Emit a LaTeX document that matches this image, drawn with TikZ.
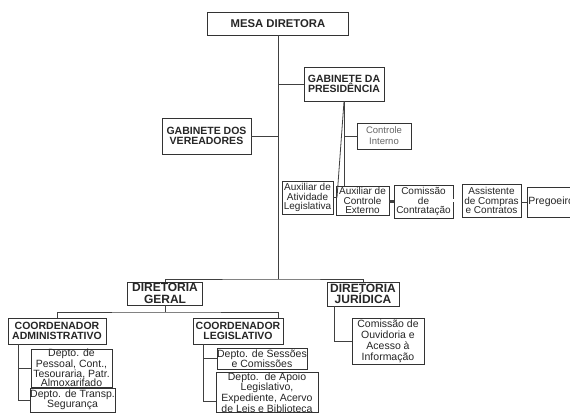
\documentclass[tikz,border=0pt]{standalone}
\usepackage{fontspec}
\setmainfont{Liberation Sans}
\begin{document}
\begin{tikzpicture}[x=1pt,y=-1pt,
  box/.style={draw=black!80, line width=0.9pt, inner sep=0pt, align=center, text=black!85},
  hd/.style={box, font=\bfseries\fontsize{10.5}{9.8}\selectfont},
  hdbig/.style={box, font=\bfseries\fontsize{12}{11.5}\selectfont},
  tx/.style={box, font=\fontsize{10}{9.6}\selectfont},
  txg/.style={box, text=black!60, font=\fontsize{9.5}{11}\selectfont},
  ln/.style={draw=black!75, line width=0.8pt}]
\useasboundingbox (0,0) rectangle (570,414);
\clip (0,0) rectangle (570,414);
\fill[white] (0,0) rectangle (570,414);

% top part
\node[hd, minimum width=141, minimum height=23, font=\bfseries\fontsize{11.3}{11}\selectfont] (mesa) at (278,23.5) {MESA DIRETORA};
\node[hd, minimum width=80, minimum height=34] (gpres) at (344,84) {GABINETE DA\\PRESIDÊNCIA};
\node[hd, minimum width=89, minimum height=36] (gver) at (206.5,136) {GABINETE DOS\\VEREADORES};
\node[txg, minimum width=54, minimum height=26] (cint) at (384,136) {Controle\\Interno};
\node[tx, minimum width=51, minimum height=33] (auxat) at (307.5,197.5) {Auxiliar de\\Atividade\\Legislativa};
\node[tx, minimum width=53, minimum height=29] (auxce) at (362.5,200.5) {Auxiliar de\\Controle\\Externo};
\node[tx, minimum width=59, minimum height=33] (comc) at (423.5,201.5) {Comissão\\de\\Contratação};
\node[tx, minimum width=59, minimum height=33] (asst) at (491.5,200.5) {Assistente\\de Compras\\e Contratos};
\node[tx, anchor=west, minimum height=30, text width=66, inner xsep=1.5pt, align=left, font=\fontsize{10.5}{10}\selectfont] (preg) at (526.5,202) {Pregoeiro};

\coordinate (jb) at (278,279);
\coordinate (jpres) at (278,84);
\coordinate (jver) at (278,136);
\coordinate (jint) at (344,136);
\coordinate (jdiag) at (337,197.5);

\draw[ln] (mesa.south) -- (jb);
\draw[ln] (jpres) -- (gpres.west);
\draw[ln] (gver.east) -- (jver);
\draw[ln] (gpres.south) -- (gpres.south |- auxce.north);
\draw[ln] (gpres.south) -- (jdiag);
\draw[ln] (auxat.east) -- (jdiag);
\draw[ln] (jint) -- (cint.west);
\draw[ln, line width=2.4pt] (auxce.east |- comc.west) -- (comc.west);
\draw[ln, double=white, double distance=2.2pt, line width=0.7pt] (comc.east |- asst.west) -- (asst.west);
\draw[ln] (asst.east |- preg.west) -- (preg.west);

% lower part
\node[hdbig, minimum width=75, minimum height=23] (dg) at (165,293.5) {DIRETORIA\\GERAL};
\node[hdbig, minimum width=72, minimum height=24] (dj) at (363,294) {DIRETORIA\\JURÍDICA};
\node[hd, minimum width=98, minimum height=26] (cadm) at (57,331) {COORDENADOR\\ADMINISTRATIVO};
\node[hd, minimum width=90, minimum height=26] (cleg) at (238,331) {COORDENADOR\\LEGISLATIVO};
\node[tx, minimum width=81, minimum height=38, font=\fontsize{10.5}{9.4}\selectfont] (dpess) at (71.5,368) {Depto. de\\Pessoal, Cont.,\\Tesouraria, Patr.\\Almoxarifado};
\node[tx, minimum width=85, minimum height=24, font=\fontsize{10.5}{10}\selectfont] (dtran) at (72.5,400) {Depto. de Transp.\\Segurança};
\node[tx, minimum width=90, minimum height=21, font=\fontsize{10.5}{10}\selectfont] (dsess) at (262,358.5) {Depto. de Sessões\\e Comissões};
\node[tx, minimum width=102, minimum height=40, font=\fontsize{10.5}{9.2}\selectfont] (dapoio) at (267,392.5) {Depto.\ \ de Apoio\\Legislativo,\\Expediente, Acervo\\de Leis e Biblioteca};
\node[tx, minimum width=72, minimum height=46, font=\fontsize{10.5}{11}\selectfont] (couv) at (388,341) {Comissão de\\Ouvidoria e\\Acesso à\\Informação};

\coordinate (jg) at (165,312);
\draw[ln] (dg.north) |- (jb) -| (dj.north);
\draw[ln] (dg.south) -- (jg);
\draw[ln] (cadm.north) |- (jg) -| ([xshift=40pt]cleg.north);
\draw[ln] ([xshift=-39pt]cadm.south) |- (dpess.west);
\draw[ln] ([xshift=-39pt]cadm.south) |- (dtran.west);
\draw[ln] ([xshift=-35pt]cleg.south) |- (dsess.west);
\draw[ln] ([xshift=-35pt]cleg.south) |- ([yshift=-8.5pt]dapoio.west);
\draw[ln] ([xshift=-29pt]dj.south) |- (couv.west);
\end{tikzpicture}
\end{document}
